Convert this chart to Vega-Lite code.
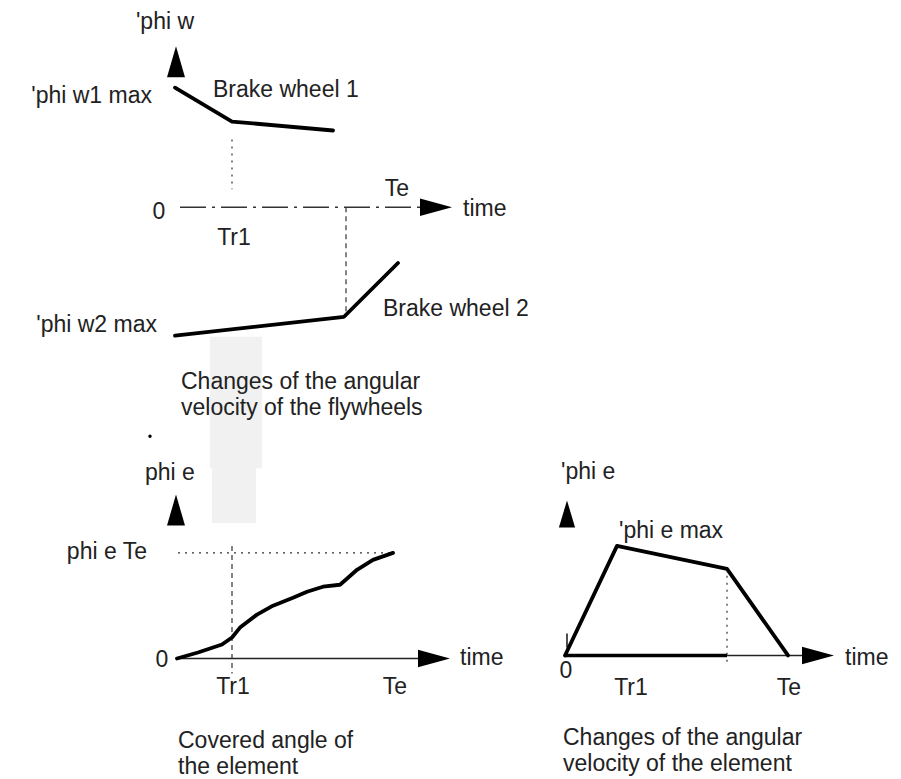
{
  "$schema": "https://vega.github.io/schema/vega-lite/v6.json",
  "width": 901,
  "height": 779,
  "autosize": {"type": "fit", "contains": "padding"},
  "padding": 0,
  "background": "white",
  "config": {"view": {"stroke": null}},
  "datasets": {
    "blob": [
      {"x": 210, "x2": 262, "y": 338, "y2": 470},
      {"x": 212, "x2": 256, "y": 470, "y2": 525}
    ],
    "curves": [
      {"c": "w1", "i": 1, "x": 175, "y": 88},
      {"c": "w1", "i": 2, "x": 232, "y": 122},
      {"c": "w1", "i": 3, "x": 333, "y": 131},
      {"c": "w2", "i": 1, "x": 175, "y": 337},
      {"c": "w2", "i": 2, "x": 344, "y": 318},
      {"c": "w2", "i": 3, "x": 398, "y": 264},
      {"c": "pe", "i": 1, "x": 177, "y": 661},
      {"c": "pe", "i": 2, "x": 198, "y": 655},
      {"c": "pe", "i": 3, "x": 222, "y": 647},
      {"c": "pe", "i": 4, "x": 232, "y": 640},
      {"c": "pe", "i": 5, "x": 240, "y": 630},
      {"c": "pe", "i": 6, "x": 257, "y": 617},
      {"c": "pe", "i": 7, "x": 273, "y": 608},
      {"c": "pe", "i": 8, "x": 293, "y": 600},
      {"c": "pe", "i": 9, "x": 307, "y": 594},
      {"c": "pe", "i": 10, "x": 323, "y": 589},
      {"c": "pe", "i": 11, "x": 340, "y": 587},
      {"c": "pe", "i": 12, "x": 348, "y": 580},
      {"c": "pe", "i": 13, "x": 357, "y": 572},
      {"c": "pe", "i": 14, "x": 373, "y": 562},
      {"c": "pe", "i": 15, "x": 393, "y": 555},
      {"c": "pv", "i": 1, "x": 565, "y": 658},
      {"c": "pv", "i": 2, "x": 617, "y": 548},
      {"c": "pv", "i": 3, "x": 727, "y": 571},
      {"c": "pv", "i": 4, "x": 788, "y": 658}
    ],
    "axisDashDot": [
      {"x": 180, "y": 208, "x2": 425, "y2": 208}
    ],
    "dotted": [
      {"x": 232, "y": 140, "x2": 232, "y2": 190},
      {"x": 178, "y": 555, "x2": 390, "y2": 555},
      {"x": 727, "y": 571, "x2": 727, "y2": 665}
    ],
    "dashed": [
      {"x": 346, "y": 208, "x2": 346, "y2": 318},
      {"x": 232, "y": 548, "x2": 232, "y2": 676}
    ],
    "thin": [
      {"x": 177, "y": 661, "x2": 425, "y2": 661},
      {"x": 725, "y": 658, "x2": 805, "y2": 658},
      {"x": 567, "y": 636, "x2": 567, "y2": 650}
    ],
    "thick": [
      {"x": 565, "y": 658, "x2": 727, "y2": 658}
    ],
    "upArrows": [
      {"x": 176, "y": 62},
      {"x": 176, "y": 512}
    ],
    "upArrowSmall": [
      {"x": 567, "y": 516}
    ],
    "rightArrows": [
      {"x": 436, "y": 208},
      {"x": 434, "y": 661},
      {"x": 818, "y": 658}
    ],
    "specks": [
      {"x": 150, "y": 438}
    ],
    "labelsLeft": [
      {"t": "Brake wheel 1", "x": 213, "y": 97},
      {"t": "time", "x": 463, "y": 217},
      {"t": "Brake wheel 2", "x": 383, "y": 317},
      {"t": "Changes of the angular\nvelocity of the flywheels", "x": 181, "y": 391},
      {"t": "phi e", "x": 145, "y": 482},
      {"t": "time", "x": 460, "y": 668},
      {"t": "Covered angle of\nthe element", "x": 178, "y": 751},
      {"t": "'phi e", "x": 561, "y": 481},
      {"t": "'phi e max", "x": 619, "y": 540},
      {"t": "time", "x": 845, "y": 668},
      {"t": "Changes of the angular\nvelocity of the element", "x": 563, "y": 748}
    ],
    "labelsRight": [
      {"t": "'phi w1 max", "x": 152, "y": 103},
      {"t": "'phi w2 max", "x": 157, "y": 333},
      {"t": "phi e Te", "x": 147, "y": 561}
    ],
    "labelsCenter": [
      {"t": "'phi w", "x": 165, "y": 29},
      {"t": "0", "x": 159, "y": 220},
      {"t": "Te", "x": 397, "y": 197},
      {"t": "Tr1", "x": 234, "y": 246},
      {"t": "0", "x": 162, "y": 670},
      {"t": "Tr1", "x": 233, "y": 697},
      {"t": "Te", "x": 395, "y": 697},
      {"t": "0", "x": 566, "y": 681},
      {"t": "Tr1", "x": 631, "y": 698},
      {"t": "Te", "x": 789, "y": 698}
    ]
  },
  "layer": [
    {
      "data": {"name": "blob"},
      "mark": {"type": "rect", "color": "#cfcfcf", "opacity": 0.3},
      "encoding": {
        "x": {"field": "x", "type": "quantitative", "scale": {"domain": [0, 901], "nice": false, "zero": false}, "axis": null},
        "x2": {"field": "x2"},
        "y": {"field": "y", "type": "quantitative", "scale": {"domain": [0, 779], "reverse": true, "nice": false, "zero": false}, "axis": null},
        "y2": {"field": "y2"}
      }
    },
    {
      "data": {"name": "axisDashDot"},
      "mark": {"type": "rule", "color": "#333", "strokeWidth": 1.5, "strokeDash": [26, 6, 3, 6]},
      "encoding": {
        "x": {"field": "x", "type": "quantitative", "axis": null},
        "x2": {"field": "x2"},
        "y": {"field": "y", "type": "quantitative", "axis": null},
        "y2": {"field": "y2"}
      }
    },
    {
      "data": {"name": "dotted"},
      "mark": {"type": "rule", "color": "#333", "strokeWidth": 1.2, "strokeDash": [2, 5]},
      "encoding": {
        "x": {"field": "x", "type": "quantitative", "axis": null},
        "x2": {"field": "x2"},
        "y": {"field": "y", "type": "quantitative", "axis": null},
        "y2": {"field": "y2"}
      }
    },
    {
      "data": {"name": "dashed"},
      "mark": {"type": "rule", "color": "#333", "strokeWidth": 1.2, "strokeDash": [5, 4]},
      "encoding": {
        "x": {"field": "x", "type": "quantitative", "axis": null},
        "x2": {"field": "x2"},
        "y": {"field": "y", "type": "quantitative", "axis": null},
        "y2": {"field": "y2"}
      }
    },
    {
      "data": {"name": "thin"},
      "mark": {"type": "rule", "color": "#222", "strokeWidth": 1.6},
      "encoding": {
        "x": {"field": "x", "type": "quantitative", "axis": null},
        "x2": {"field": "x2"},
        "y": {"field": "y", "type": "quantitative", "axis": null},
        "y2": {"field": "y2"}
      }
    },
    {
      "data": {"name": "thick"},
      "mark": {"type": "rule", "color": "#000", "strokeWidth": 3.5},
      "encoding": {
        "x": {"field": "x", "type": "quantitative", "axis": null},
        "x2": {"field": "x2"},
        "y": {"field": "y", "type": "quantitative", "axis": null},
        "y2": {"field": "y2"}
      }
    },
    {
      "data": {"name": "curves"},
      "mark": {"type": "line", "color": "#000", "strokeWidth": 3.8, "strokeCap": "round", "strokeJoin": "round"},
      "encoding": {
        "x": {"field": "x", "type": "quantitative", "axis": null},
        "y": {"field": "y", "type": "quantitative", "axis": null},
        "detail": {"field": "c", "type": "nominal"},
        "order": {"field": "i", "type": "quantitative"}
      }
    },
    {
      "data": {"name": "upArrows"},
      "mark": {"type": "point", "shape": "M0,-1L0.58,1L-0.58,1Z", "filled": true, "color": "#000", "opacity": 1, "size": 961},
      "encoding": {
        "x": {"field": "x", "type": "quantitative", "axis": null},
        "y": {"field": "y", "type": "quantitative", "axis": null}
      }
    },
    {
      "data": {"name": "upArrowSmall"},
      "mark": {"type": "point", "shape": "M0,-1L0.6,1L-0.6,1Z", "filled": true, "color": "#000", "opacity": 1, "size": 729},
      "encoding": {
        "x": {"field": "x", "type": "quantitative", "axis": null},
        "y": {"field": "y", "type": "quantitative", "axis": null}
      }
    },
    {
      "data": {"name": "rightArrows"},
      "mark": {"type": "point", "shape": "M1,0L-1,-0.55L-1,0.55Z", "filled": true, "color": "#000", "opacity": 1, "size": 1024},
      "encoding": {
        "x": {"field": "x", "type": "quantitative", "axis": null},
        "y": {"field": "y", "type": "quantitative", "axis": null}
      }
    },
    {
      "data": {"name": "specks"},
      "mark": {"type": "point", "filled": true, "color": "#000", "opacity": 1, "size": 12},
      "encoding": {
        "x": {"field": "x", "type": "quantitative", "axis": null},
        "y": {"field": "y", "type": "quantitative", "axis": null}
      }
    },
    {
      "data": {"name": "labelsLeft"},
      "mark": {"type": "text", "align": "left", "baseline": "alphabetic", "font": "Liberation Sans", "fontSize": 23, "lineBreak": "\n", "lineHeight": 26, "color": "#222"},
      "encoding": {
        "x": {"field": "x", "type": "quantitative", "axis": null},
        "y": {"field": "y", "type": "quantitative", "axis": null},
        "text": {"field": "t", "type": "nominal"}
      }
    },
    {
      "data": {"name": "labelsRight"},
      "mark": {"type": "text", "align": "right", "baseline": "alphabetic", "font": "Liberation Sans", "fontSize": 23, "color": "#222"},
      "encoding": {
        "x": {"field": "x", "type": "quantitative", "axis": null},
        "y": {"field": "y", "type": "quantitative", "axis": null},
        "text": {"field": "t", "type": "nominal"}
      }
    },
    {
      "data": {"name": "labelsCenter"},
      "mark": {"type": "text", "align": "center", "baseline": "alphabetic", "font": "Liberation Sans", "fontSize": 23, "color": "#222"},
      "encoding": {
        "x": {"field": "x", "type": "quantitative", "axis": null},
        "y": {"field": "y", "type": "quantitative", "axis": null},
        "text": {"field": "t", "type": "nominal"}
      }
    }
  ]
}
